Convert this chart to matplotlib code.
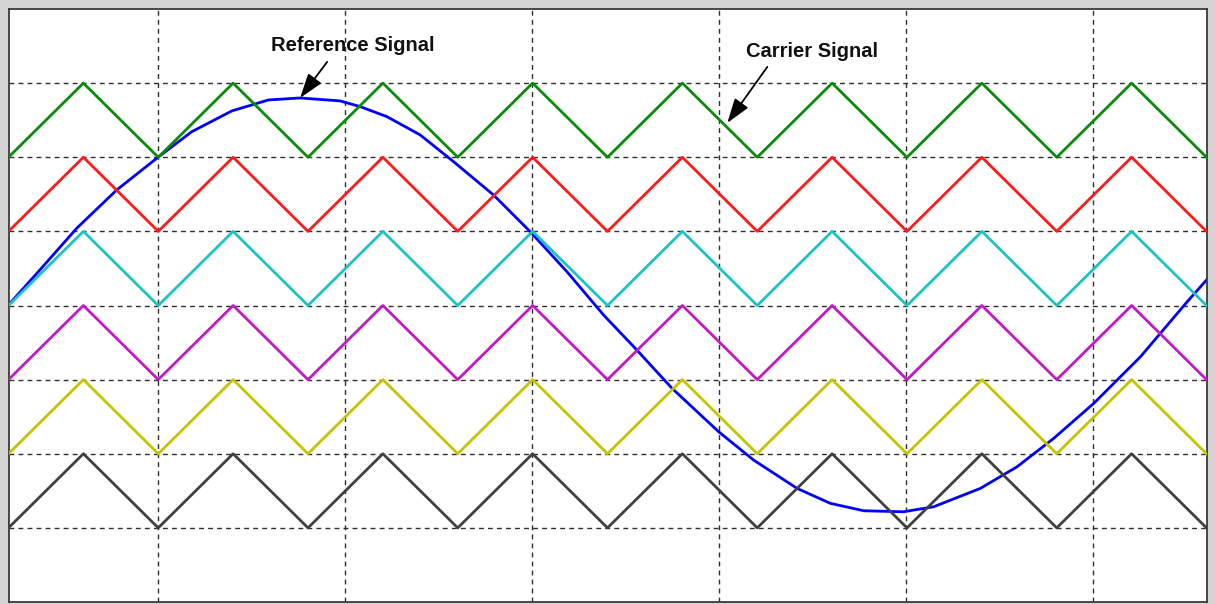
import matplotlib
matplotlib.use("Agg")
import matplotlib.pyplot as plt

# Time axis in ms
t_end = 20.32

# Reference (modulating) signal, sampled points (ms, value)
ref_t = [0.025, 0.506, 1.157, 1.836, 2.515, 3.109, 3.788, 4.409, 4.946, 5.625,
         5.965, 6.418, 6.983, 7.548, 8.227, 8.849, 9.472, 10.093, 10.631, 11.254,
         12.045, 12.638, 13.375, 13.940, 14.505, 15.179, 15.693, 16.485, 17.108,
         17.729, 18.408, 19.200, 19.993, 20.32]
ref_v = [0.03, 0.456, 1.042, 1.559, 1.987, 2.345, 2.625, 2.773, 2.800, 2.760,
         2.683, 2.548, 2.301, 1.941, 1.491, 0.996, 0.456, -0.128, -0.578, -1.117,
         -1.703, -2.085, -2.467, -2.669, -2.769, -2.783, -2.715, -2.467, -2.175,
         -1.792, -1.320, -0.691, 0.051, 0.344]

# Triangular carrier vertices (ms) and normalized shape (0 = valley, 1 = peak)
carrier_t = [0.0, 1.27, 2.54, 3.81, 5.08, 6.35, 7.62, 8.89, 10.16, 11.43,
             12.70, 13.97, 15.24, 16.51, 17.78, 19.05, 20.32]
carrier_shape = [0, 1, 0, 1, 0, 1, 0, 1, 0, 1, 0, 1, 0, 1, 0, 1, 0]

# Lower level of each stacked carrier band, top to bottom
carrier_base = [2, 1, 0, -1, -2, -3]
carrier_colors = ["#0a8a0a", "#ff1a1a", "#1cc3c3", "#c21ac2", "#c4c400", "#404040"]

# Grid positions
x_grid = [2.537, 5.71, 8.88, 12.05, 15.22, 18.40]
y_grid = [-3, -2, -1, 0, 1, 2, 3]

fig = plt.figure(figsize=(12.15, 6.04), dpi=100, facecolor="#d4d4d4")
ax = fig.add_axes([8.5 / 1215, 2 / 604, 1198 / 1215, 593 / 604])
ax.set_facecolor("white")

ax.plot(ref_t, ref_v, color="#0000ff", lw=2.0, zorder=2)
for base, col in zip(carrier_base, carrier_colors):
    ax.plot(carrier_t, [base + s for s in carrier_shape], color=col, lw=2.0, zorder=3)

ax.set_xlim(0, t_end)
ax.set_ylim(-4, 4)
ax.set_xticks(x_grid)
ax.set_yticks(y_grid)
ax.tick_params(length=0, labelbottom=False, labelleft=False)
ax.grid(True, color="#2e2e2e", lw=1.0, linestyle=(0, (3.5, 3)))
ax.set_axisbelow(True)
for sp in ax.spines.values():
    sp.set_color("#3a3a3a")
    sp.set_linewidth(1.3)

arrow = dict(arrowstyle="-|>,head_length=15,head_width=5", mutation_scale=1,
             color="black", lw=1.3, shrinkA=0, shrinkB=0)
ax.annotate("", xy=(4.946, 2.80), xytext=(5.405, 3.286), arrowprops=arrow, zorder=5)
ax.annotate("", xy=(12.192, 2.463), xytext=(12.871, 3.219), arrowprops=arrow, zorder=5)

font = dict(family="Liberation Sans", weight="bold", size=14.5, color="#111111")
ax.text(5.846, 3.435, "Reference Signal", ha="center", va="baseline", **font)
ax.text(13.635, 3.354, "Carrier Signal", ha="center", va="baseline", **font)

fig.savefig("out.png", dpi=100, facecolor=fig.get_facecolor())
